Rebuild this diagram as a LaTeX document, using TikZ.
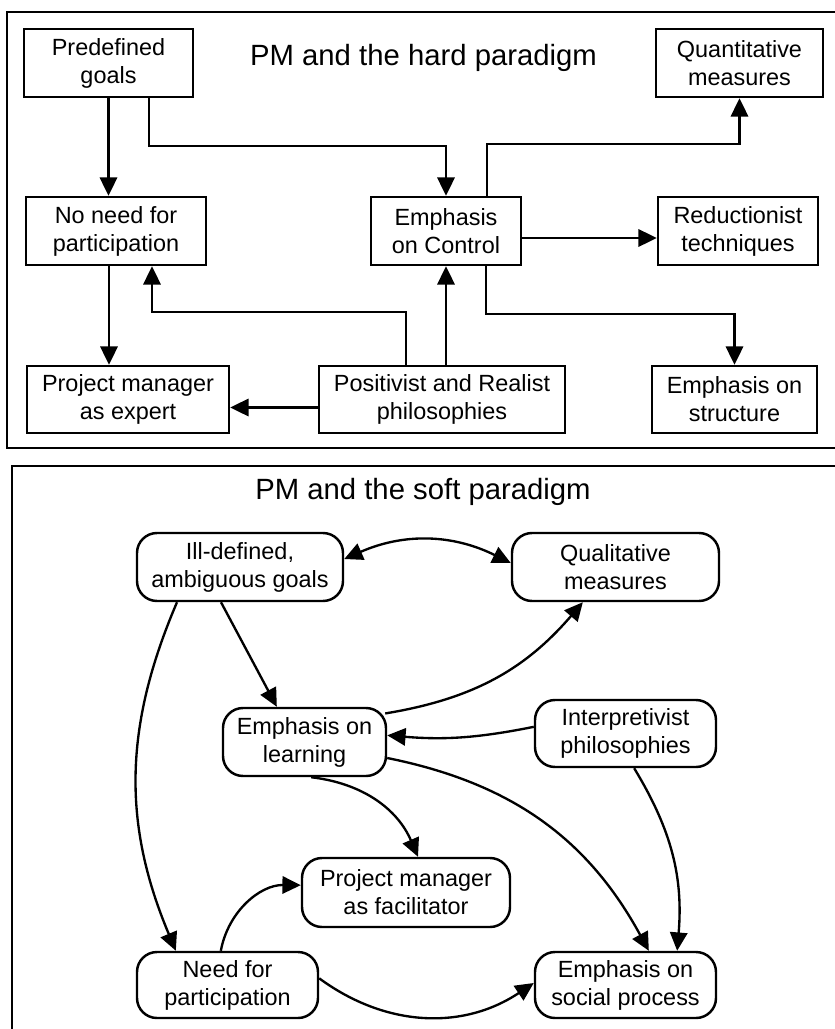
\documentclass[tikz,border=0pt]{standalone}
\usepackage{fontspec}
\setmainfont{Liberation Sans}
\usetikzlibrary{arrows.meta}

\tikzset{
  box/.style={draw,line width=2.1pt,minimum height=2.04cm,align=center,inner sep=1pt,
    font=\fontsize{20}{24}\selectfont},
  rbox/.style={box,rounded corners=0.6cm},
  arr/.style={line width=2pt,-{Triangle[length=0.55cm,width=0.52cm]}},
  darr/.style={line width=2pt,{Triangle[length=0.55cm,width=0.52cm]}-{Triangle[length=0.55cm,width=0.52cm]}},
  ttl/.style={font=\fontsize{25}{30}\selectfont},
}

\begin{document}
\begin{tikzpicture}[x=0.03cm,y=-0.03cm]
  \useasboundingbox (0,0) rectangle (835,1029);
  % frames of both panels
  \draw[line width=2.1pt] (845,12) -- (7,12) -- (7,448) -- (845,448);
  \draw[line width=2.1pt] (845,466) -- (12,466) -- (12,1040);

  % hard paradigm: boxes
  \node[ttl] (hardttl) at (423.5,58) {PM and the hard paradigm};
  \node[box,minimum width=5.07cm] (pred) at (108.5,63) {Predefined\\goals};
  \node[box,minimum width=5.01cm] (quant) at (739.5,63) {Quantitative\\measures};
  \node[box,minimum width=5.4cm] (noneed) at (116,231) {No need for\\participation};
  \node[box,minimum width=4.5cm] (control) at (446,231) {Emphasis\\on Control};
  \node[box,minimum width=4.8cm] (reduct) at (738,231) {Reductionist\\techniques};
  \node[box,minimum width=6.06cm,minimum height=2.01cm] (pmexp) at (128,399.5) {Project manager\\as expert};
  \node[box,minimum width=7.38cm,minimum height=2.01cm] (posit) at (442,399.5) {Positivist and Realist\\philosophies};
  \node[box,minimum width=4.95cm,minimum height=2.01cm] (struct) at (734.5,399.5) {Emphasis on\\structure};

  % hard paradigm: connectors
  \draw[arr] (pred.south) -- (pred.south |- noneed.north);
  \draw[arr] ([xshift=1.215cm]pred.south) -- ++(0,48) -| (control.north);
  \draw[arr] ([xshift=1.23cm]control.north) -- ++(0,-52) -| (quant.south);
  \draw[arr] ([yshift=-0.21cm]control.east) -- ([yshift=-0.21cm]reduct.west);
  \draw[arr] ([xshift=-0.21cm]noneed.south) -- ([xshift=-0.21cm]noneed.south |- pmexp.north);
  \draw[arr] ([xshift=-1.08cm]posit.north) -- ++(0,-53) -| ([xshift=1.08cm]noneed.south);
  \draw[arr] (control.south |- posit.north) -- (control.south);
  \draw[arr] ([xshift=1.2cm]control.south) -- ++(0,48) -| (struct.north);
  \draw[arr] ([yshift=-0.24cm]posit.west) -- ([yshift=-0.24cm]pmexp.east);

  % soft paradigm: boxes
  \node[ttl] (softttl) at (423,492) {PM and the soft paradigm};
  \node[rbox,minimum width=6.18cm] (ill) at (240,567) {Ill-defined,\\ambiguous goals};
  \node[rbox,minimum width=6.21cm] (qual) at (615.5,567) {Qualitative\\measures};
  \node[rbox,minimum width=4.89cm] (learn) at (304.5,742) {Emphasis on\\learning};
  \node[rbox,minimum width=5.43cm,minimum height=2.01cm] (interp) at (625.5,733.5) {Interpretivist\\philosophies};
  \node[rbox,minimum width=6.24cm,minimum height=2.07cm] (facil) at (406,892.5) {Project manager\\as facilitator};
  \node[rbox,minimum width=5.43cm,minimum height=1.98cm] (need) at (227.5,985) {Need for\\participation};
  \node[rbox,minimum width=5.43cm,minimum height=1.98cm] (social) at (625.5,985) {Emphasis on\\social process};

  % soft paradigm: connectors
  \draw[darr] ([yshift=0.24cm]ill.east) to[bend left=25] ([yshift=0.12cm]qual.west);
  \draw[arr] ([xshift=-0.57cm]ill.south) -- ([xshift=-0.83cm]learn.north);
  \draw[arr] ([xshift=-1.89cm]ill.south) to[bend right=23] ([xshift=-1.55cm]need.north);
  \draw[arr] ([xshift=-0.06cm,yshift=-0.2cm]learn.north east) to[bend right=20] ([xshift=-0.98cm]qual.south);
  \draw[arr] ([yshift=0.2cm]interp.west) to[bend left=8] ([yshift=0.2cm]learn.east);
  \draw[arr] ([yshift=-0.48cm]learn.east) to[bend left=25] ([xshift=0.7cm]social.north);
  \draw[arr] ([xshift=0.26cm]interp.south) to[bend left=18] ([xshift=1.55cm]social.north);
  \draw[arr] ([xshift=0.2cm]learn.south) to[bend left=30] ([xshift=0.36cm]facil.north);
  \draw[arr] ([xshift=-0.2cm]need.north) to[bend left=40] ([yshift=0.22cm]facil.west);
  \draw[arr] ([yshift=0.2cm]need.east) to[bend right=35] ([yshift=0.06cm]social.west);
\end{tikzpicture}
\end{document}
